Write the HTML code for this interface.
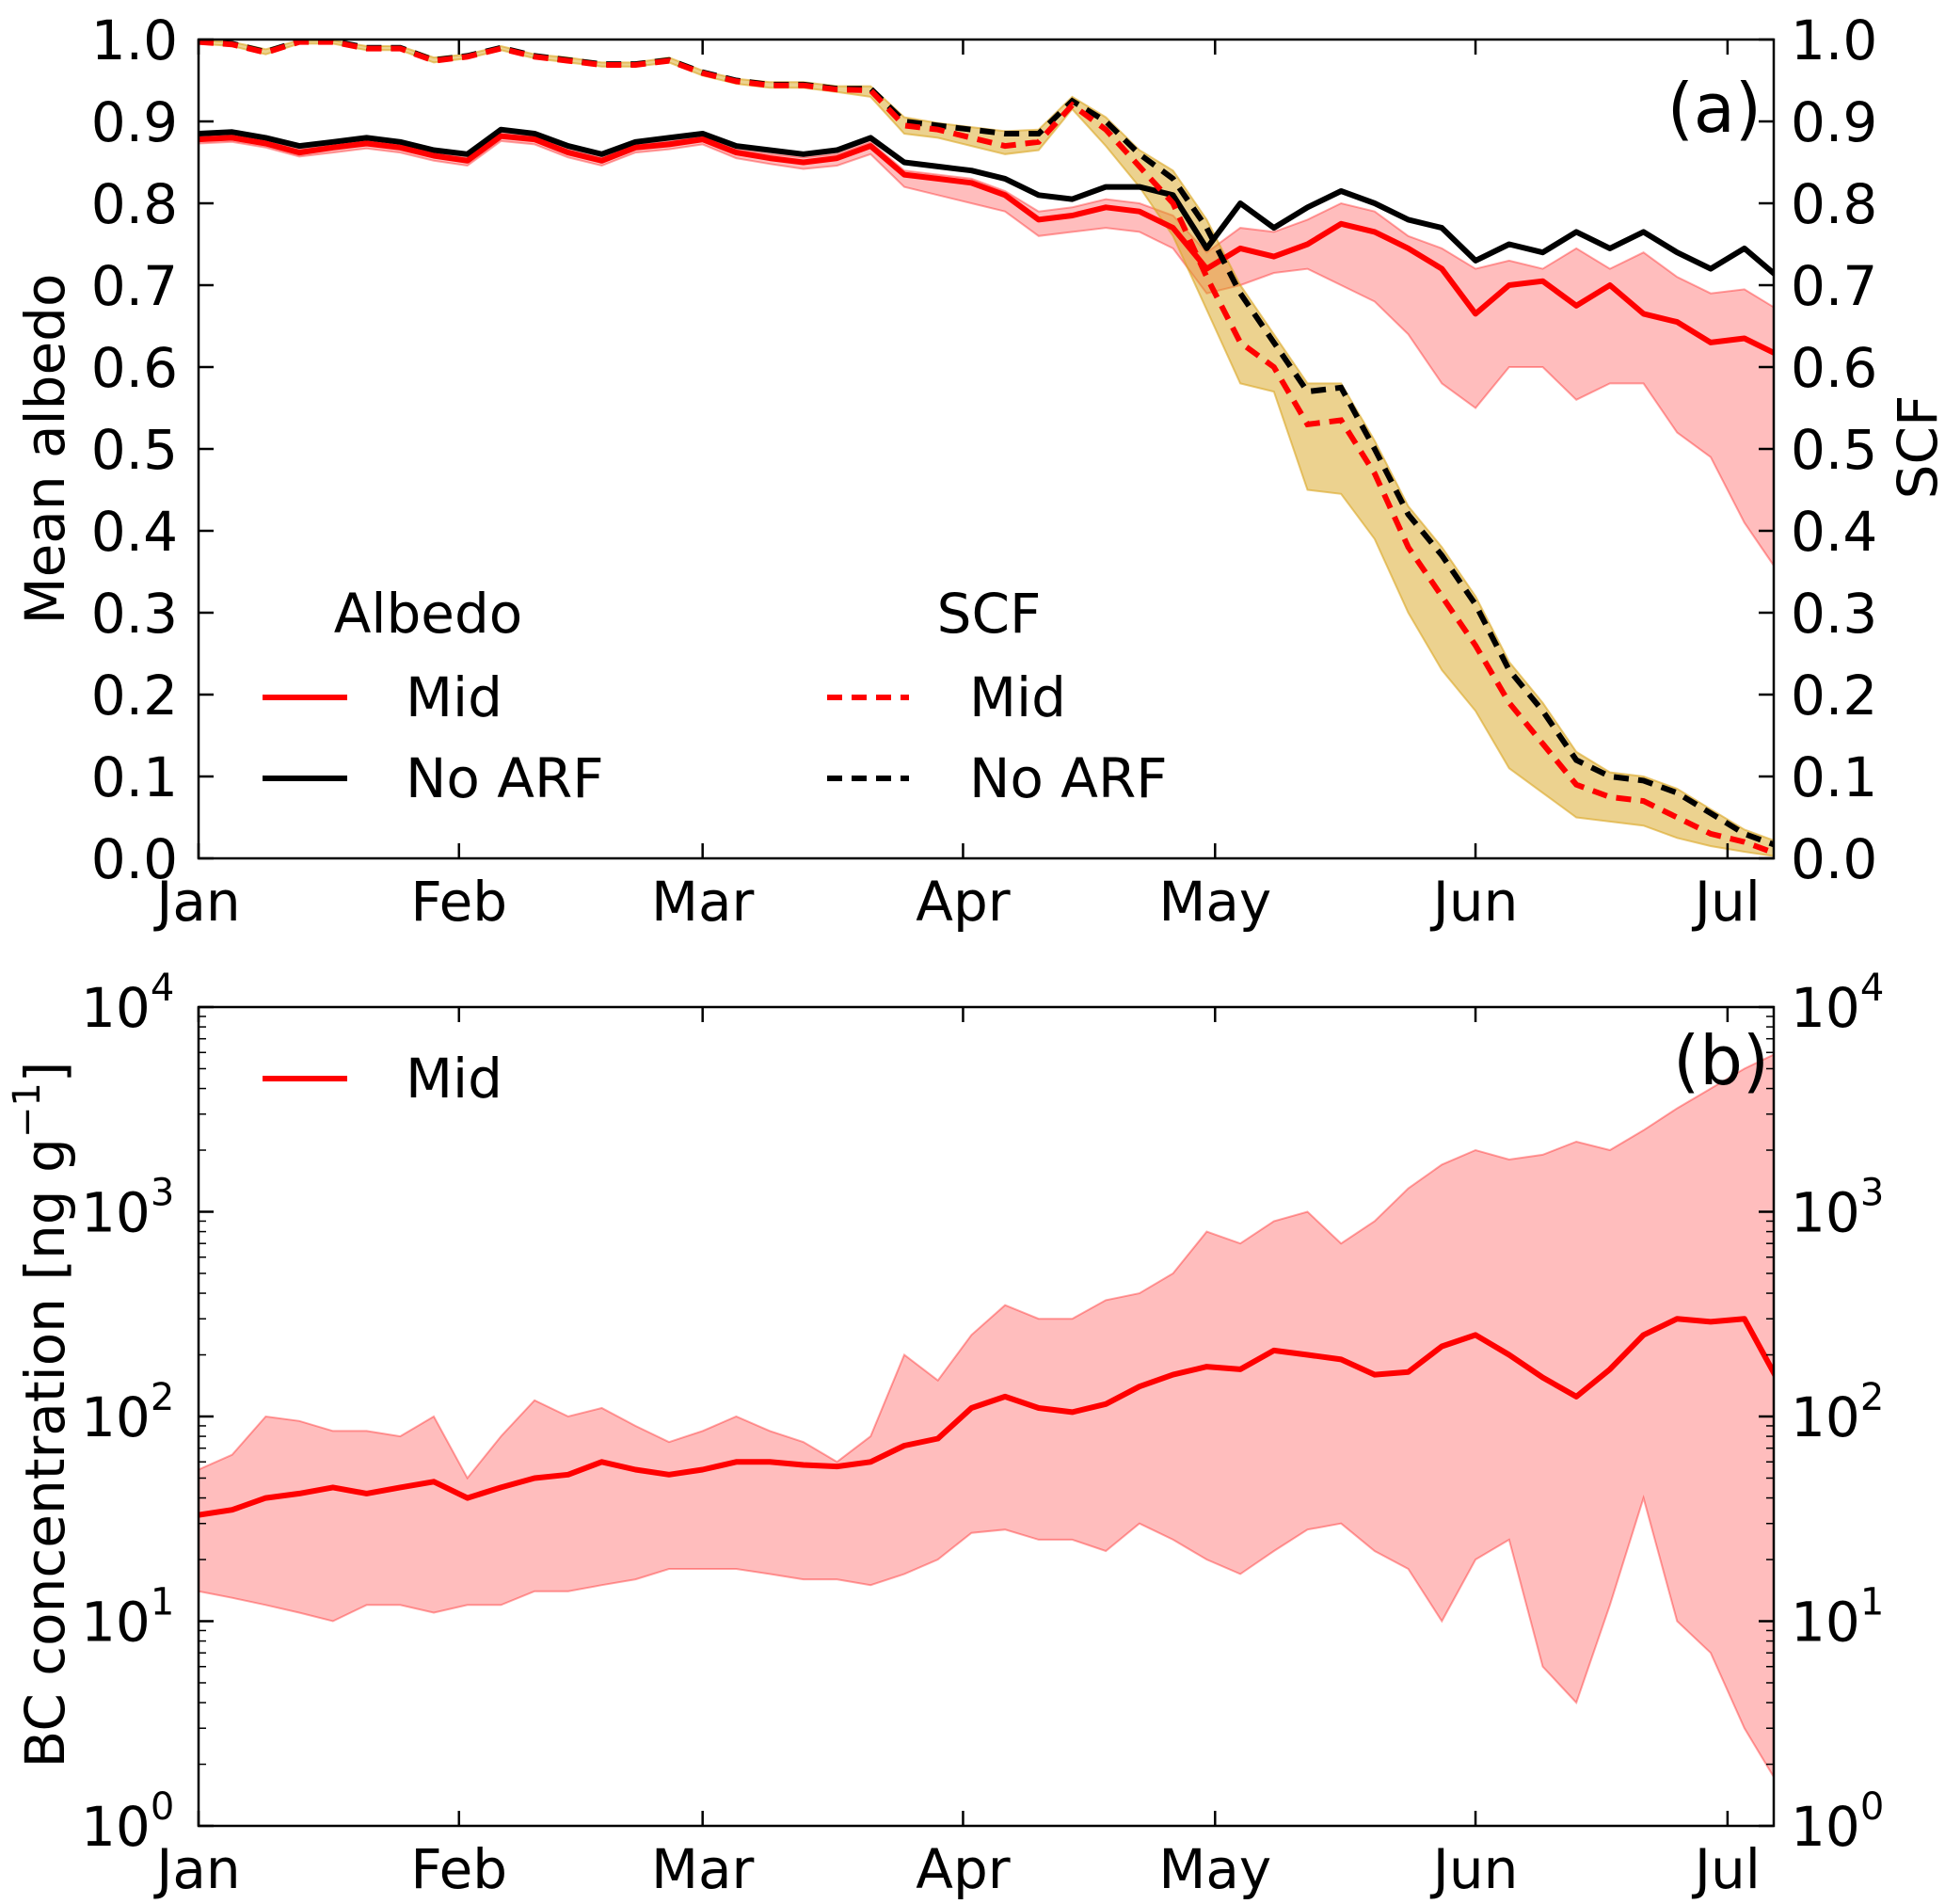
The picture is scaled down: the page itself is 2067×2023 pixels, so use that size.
<!DOCTYPE html>
<html><head><meta charset="utf-8"><style>
html,body{margin:0;padding:0;background:#fff;}
svg{display:block;font-family:"DejaVu Sans","Liberation Sans",sans-serif;}
</style></head><body>
<svg id="chart" width="2067" height="2023" viewBox="0 0 2067 2023" xmlns="http://www.w3.org/2000/svg">
<g id="g"></g>
</svg>
<script>
// ---- data (4-day steps) ----
const days = [0,4,8,12,16,20,24,28,32,36,40,44,48,52,56,60,64,68,72,76,80,84,88,92,96,100,104,108,112,116,120,124,128,132,136,140,144,148,152,156,160,164,168,172,176,180,184,188];
const albNoArf = [0.885,0.887,0.88,0.87,0.875,0.88,0.875,0.865,0.86,0.89,0.885,0.87,0.86,0.875,0.88,0.885,0.87,0.865,0.86,0.865,0.88,0.85,0.845,0.84,0.83,0.81,0.805,0.82,0.82,0.81,0.745,0.80,0.77,0.795,0.815,0.80,0.78,0.77,0.73,0.75,0.74,0.765,0.745,0.765,0.74,0.72,0.745,0.71];
const albMid = [0.878,0.88,0.873,0.862,0.868,0.873,0.868,0.858,0.852,0.882,0.878,0.862,0.852,0.868,0.872,0.878,0.862,0.855,0.85,0.855,0.87,0.835,0.83,0.825,0.81,0.78,0.785,0.795,0.79,0.77,0.72,0.745,0.735,0.75,0.775,0.765,0.745,0.72,0.665,0.70,0.705,0.675,0.70,0.665,0.655,0.63,0.635,0.615];
const albLow = [0.873,0.875,0.868,0.857,0.862,0.867,0.862,0.852,0.846,0.876,0.872,0.856,0.846,0.862,0.866,0.872,0.855,0.848,0.842,0.846,0.86,0.82,0.81,0.80,0.79,0.76,0.765,0.77,0.765,0.745,0.69,0.70,0.715,0.72,0.70,0.68,0.64,0.58,0.55,0.60,0.60,0.56,0.58,0.58,0.52,0.49,0.41,0.35];
const albHigh = [0.882,0.884,0.877,0.866,0.872,0.877,0.872,0.862,0.856,0.886,0.882,0.866,0.856,0.872,0.876,0.882,0.866,0.86,0.856,0.86,0.875,0.84,0.835,0.83,0.815,0.79,0.795,0.805,0.80,0.785,0.74,0.77,0.765,0.78,0.80,0.79,0.76,0.745,0.72,0.73,0.72,0.745,0.72,0.74,0.71,0.69,0.695,0.67];
const scfNoArf = [0.998,0.995,0.985,0.998,0.998,0.99,0.99,0.975,0.98,0.99,0.98,0.975,0.97,0.97,0.975,0.96,0.95,0.945,0.945,0.94,0.94,0.9,0.895,0.89,0.885,0.885,0.925,0.90,0.86,0.83,0.77,0.69,0.63,0.57,0.575,0.50,0.42,0.37,0.31,0.23,0.18,0.12,0.10,0.095,0.08,0.055,0.03,0.015];
const scfMid = [0.997,0.994,0.984,0.997,0.997,0.989,0.989,0.974,0.979,0.989,0.979,0.974,0.969,0.969,0.974,0.959,0.949,0.944,0.944,0.939,0.938,0.895,0.89,0.88,0.87,0.875,0.92,0.89,0.845,0.80,0.71,0.63,0.60,0.53,0.535,0.47,0.38,0.32,0.26,0.19,0.14,0.09,0.075,0.07,0.05,0.03,0.02,0.005];
const scfLow = [0.995,0.992,0.982,0.995,0.995,0.987,0.987,0.972,0.977,0.987,0.977,0.972,0.967,0.967,0.972,0.956,0.946,0.941,0.941,0.936,0.93,0.885,0.88,0.87,0.86,0.865,0.915,0.87,0.82,0.76,0.67,0.58,0.57,0.45,0.445,0.39,0.30,0.23,0.18,0.11,0.08,0.05,0.045,0.04,0.025,0.015,0.008,0.002];
const scfHigh = [0.999,0.997,0.988,0.999,0.999,0.992,0.992,0.978,0.982,0.992,0.982,0.978,0.972,0.972,0.978,0.962,0.952,0.948,0.948,0.943,0.943,0.905,0.898,0.893,0.888,0.89,0.93,0.905,0.865,0.84,0.78,0.70,0.64,0.58,0.58,0.51,0.43,0.38,0.32,0.24,0.19,0.13,0.105,0.10,0.085,0.06,0.035,0.02];
const bcMid = [33,35,40,42,45,42,45,48,40,45,50,52,60,55,52,55,60,60,58,57,60,72,78,110,125,110,105,115,140,160,175,170,210,200,190,160,165,220,250,200,155,125,170,250,300,290,300,150];
const bcLow = [14,13,12,11,10,12,12,11,12,12,14,14,15,16,18,18,18,17,16,16,15,17,20,27,28,25,25,22,30,25,20,17,22,28,30,22,18,10,20,25,6,4,12,40,10,7,3,1.6];
const bcHigh = [55,65,100,95,85,85,80,100,50,80,120,100,110,90,75,85,100,85,75,60,80,200,150,250,350,300,300,370,400,500,800,700,900,1000,700,900,1300,1700,2000,1800,1900,2200,2000,2500,3200,4000,5000,6000];
const monthNames = ["Jan","Feb","Mar","Apr","May","Jun","Jul"];
const monthDays = [0,31,60,91,121,152,182];
const linTicks = ["0.0","0.1","0.2","0.3","0.4","0.5","0.6","0.7","0.8","0.9","1.0"];
const logExps = [0,1,2,3,4];

// ---- layout ----
const X0=211, X1=1885, DMAX=187.5;
const A_T=42, A_B=912, B_T=1070, B_B=1940;
const FS=58, LW=6;
const NS="http://www.w3.org/2000/svg";
const g=document.getElementById('g');
function x(d){return X0+d*(X1-X0)/DMAX;}
function ya(v){return A_B-v*(A_B-A_T);}
function yb(v){return B_B-Math.log10(v)*(B_B-B_T)/4;}
function el(tag,attrs,parent){const e=document.createElementNS(NS,tag);for(const k in attrs)e.setAttribute(k,attrs[k]);(parent||g).appendChild(e);return e;}
function pts(arr,fy){return arr.map((v,i)=>x(days[i]).toFixed(1)+","+fy(v).toFixed(1));}
function band(lo,hi,fy){return pts(lo,fy).concat(pts(hi,fy).reverse()).join(" ");}

const defs=el('defs',{});
const c1=el('clipPath',{id:'ca'},defs);el('rect',{x:X0,y:A_T,width:X1-X0,height:A_B-A_T},c1);
const c2=el('clipPath',{id:'cb'},defs);el('rect',{x:X0,y:B_T,width:X1-X0,height:B_B-B_T},c2);

// ---- panel a ----
const ga=el('g',{'clip-path':'url(#ca)'});


let e;
e=el('polygon',{points:band(albLow,albHigh,ya),fill:'#ff0000','fill-opacity':0.26,stroke:'#ff0000','stroke-opacity':0.35,'stroke-width':2},ga);


e=el('polygon',{points:band(scfLow,scfHigh,ya),fill:'#daa520','fill-opacity':0.5,stroke:'#daa520','stroke-opacity':0.6,'stroke-width':2},ga);


e=el('polyline',{points:pts(albNoArf,ya).join(" "),fill:'none',stroke:'#000','stroke-width':LW,'stroke-linejoin':'round'},ga);


e=el('polyline',{points:pts(albMid,ya).join(" "),fill:'none',stroke:'#ff0000','stroke-width':LW,'stroke-linejoin':'round'},ga);


e=el('polyline',{points:pts(scfNoArf,ya).join(" "),fill:'none',stroke:'#000','stroke-width':LW,'stroke-dasharray':'16,10'},ga);


e=el('polyline',{points:pts(scfMid,ya).join(" "),fill:'none',stroke:'#ff0000','stroke-width':LW,'stroke-dasharray':'16,10'},ga);



// ---- panel b ----
const gb=el('g',{'clip-path':'url(#cb)'});


e=el('polygon',{points:band(bcLow,bcHigh,yb),fill:'#ff0000','fill-opacity':0.26,stroke:'#ff0000','stroke-opacity':0.35,'stroke-width':2},gb);


e=el('polyline',{points:pts(bcMid,yb).join(" "),fill:'none',stroke:'#ff0000','stroke-width':LW,'stroke-linejoin':'round'},gb);



// ---- axes ----
function txt(s,attrs,name){const t=el('text',Object.assign({fill:'#000'},attrs));t.textContent=s;return t;}
function frame(T,B,name){const r=el('rect',{x:X0,y:T,width:X1-X0,height:B-T,fill:'none',stroke:'#000','stroke-width':2.5});}
frame(A_T,A_B,'panel-a-frame');frame(B_T,B_B,'panel-b-frame');
monthDays.forEach((d,i)=>{
  [[A_T,A_B],[B_T,B_B]].forEach(([T,B],p)=>{
    el('line',{x1:x(d),x2:x(d),y1:B,y2:B-16,stroke:'#000','stroke-width':2.5});
    el('line',{x1:x(d),x2:x(d),y1:T,y2:T+16,stroke:'#000','stroke-width':2.5});
    txt(monthNames[i],{x:x(d),y:B+66,'font-size':FS,'text-anchor':'middle'},'x-tick-label-'+monthNames[i].toLowerCase()+(p?'-b':'-a'));
  });
});
linTicks.forEach((s,i)=>{
  const v=i/10,yy=ya(v);
  el('line',{x1:X0,x2:X0+16,y1:yy,y2:yy,stroke:'#000','stroke-width':2.5});
  el('line',{x1:X1,x2:X1-16,y1:yy,y2:yy,stroke:'#000','stroke-width':2.5});
  txt(s,{x:189,y:yy+21,'font-size':FS,'text-anchor':'end'},'albedo-tick-'+s);
  txt(s,{x:1903,y:yy+21,'font-size':FS},'scf-tick-'+s);
});
logExps.forEach(k=>{
  const yy=yb(Math.pow(10,k));
  el('line',{x1:X0,x2:X0+16,y1:yy,y2:yy,stroke:'#000','stroke-width':2.5});
  el('line',{x1:X1,x2:X1-16,y1:yy,y2:yy,stroke:'#000','stroke-width':2.5});
  if(k<4){for(let m=2;m<10;m++){const y2=yb(m*Math.pow(10,k));
    el('line',{x1:X0,x2:X0+8,y1:y2,y2:y2,stroke:'#000','stroke-width':1.5});
    el('line',{x1:X1,x2:X1-8,y1:y2,y2:y2,stroke:'#000','stroke-width':1.5});}}
  const t1=txt('10',{x:86,y:yy+21,'font-size':FS},'bc-tick-left-1e'+k);
  const s1=el('tspan',{dy:-28,'font-size':40},t1);s1.textContent=k;
  const t2=txt('10',{x:1903,y:yy+21,'font-size':FS},'bc-tick-right-1e'+k);
  const s2=el('tspan',{dy:-28,'font-size':40},t2);s2.textContent=k;
});
txt('Mean albedo',{x:0,y:0,'font-size':FS,'text-anchor':'middle',transform:'translate(68,477) rotate(-90)'},'y-axis-title-albedo');
txt('SCF',{x:0,y:0,'font-size':FS,'text-anchor':'middle',transform:'translate(2058,475) rotate(-90)'},'y-axis-title-scf');
const bt=txt('BC concentration [ng g',{x:0,y:0,'font-size':FS,'text-anchor':'middle',transform:'translate(68,1503) rotate(-90)'},'y-axis-title-bc');
const sup=el('tspan',{dy:-26,'font-size':40},bt);sup.textContent='−1';
const sb=el('tspan',{dy:26},bt);sb.textContent=']';
txt('(a)',{x:1872,y:140,'font-size':72,'text-anchor':'end'},'panel-a-label');
txt('(b)',{x:1880,y:1152,'font-size':72,'text-anchor':'end'},'panel-b-label');

// ---- legends ----
txt('Albedo',{x:455,y:672,'font-size':FS,'text-anchor':'middle'},'legend-title-albedo');
el('line',{x1:279,x2:369,y1:741,y2:741,stroke:'#ff0000','stroke-width':LW});
txt('Mid',{x:431,y:761,'font-size':FS},'legend-entry-albedo-mid');
el('line',{x1:279,x2:369,y1:827,y2:827,stroke:'#000','stroke-width':LW});
txt('No ARF',{x:431,y:847,'font-size':FS},'legend-entry-albedo-no-arf');
txt('SCF',{x:1051,y:672,'font-size':FS,'text-anchor':'middle'},'legend-title-scf');
el('line',{x1:879,x2:966,y1:741,y2:741,stroke:'#ff0000','stroke-width':LW,'stroke-dasharray':'16,10'});
txt('Mid',{x:1030,y:761,'font-size':FS},'legend-entry-scf-mid');
el('line',{x1:879,x2:966,y1:827,y2:827,stroke:'#000','stroke-width':LW,'stroke-dasharray':'16,10'});
txt('No ARF',{x:1030,y:847,'font-size':FS},'legend-entry-scf-no-arf');
el('line',{x1:279,x2:369,y1:1146,y2:1146,stroke:'#ff0000','stroke-width':LW});
txt('Mid',{x:431,y:1166,'font-size':FS},'legend-entry-bc-mid');
</script>
</body></html>
